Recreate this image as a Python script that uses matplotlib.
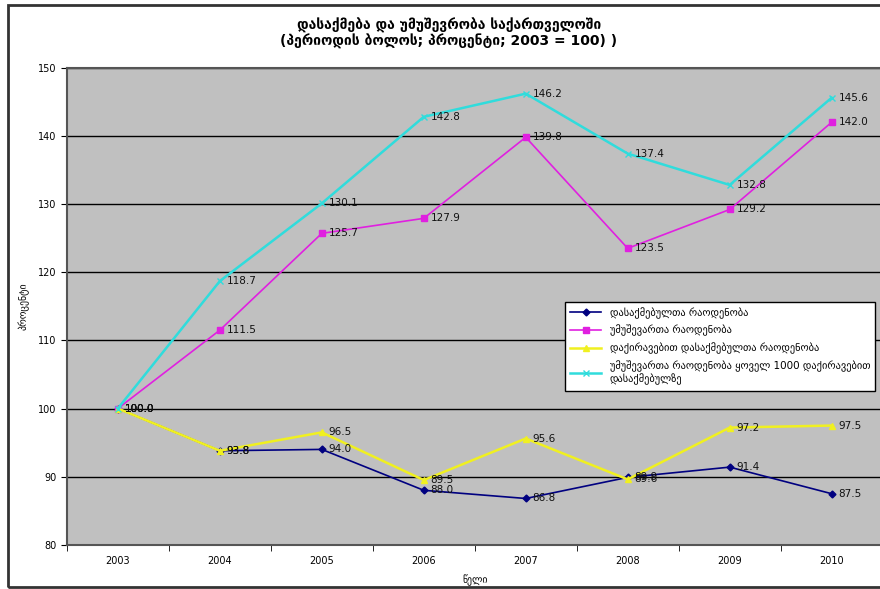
import numpy as np
import matplotlib.pyplot as plt
from matplotlib.patches import Rectangle

plt.rcParams['font.family'] = ['DejaVu Sans']

years = [2003, 2004, 2005, 2006, 2007, 2008, 2009, 2010]
dasakmebuli = [100.0, 93.8, 94.0, 88.0, 86.8, 89.9, 91.4, 87.5]
umushevari = [100.0, 111.5, 125.7, 127.9, 139.8, 123.5, 129.2, 142.0]
dakiravebuli = [100.0, 93.8, 96.5, 89.5, 95.6, 89.6, 97.2, 97.5]
yovel_1000 = [100.0, 118.7, 130.1, 142.8, 146.2, 137.4, 132.8, 145.6]

saxelebi = ['დასაქმებულთა რაოდენობა',
            'უმუშევართა რაოდენობა',
            'დაქირავებით დასაქმებულთა რაოდენობა',
            'უმუშევართა რაოდენობა ყოველ 1000 დაქირავებით\nდასაქმებულზე']

fig = plt.figure(figsize=(8.8, 5.89), dpi=100)
fig.patches.append(Rectangle((0.009, 0.004), 1.2, 0.987, transform=fig.transFigure,
                             fill=False, edgecolor='#333333', linewidth=2))
ax = fig.add_axes([0.076, 0.075, 0.927, 0.81])
ax.set_facecolor('#C0C0C0')

x = np.arange(len(years))
serii = [
    (dasakmebuli, '#000080', 'D', 3.5, 1.2),
    (umushevari, '#E020E0', 's', 4, 1.2),
    (dakiravebuli, '#F0F020', '^', 4, 1.8),
    (yovel_1000, '#30DCDC', 'x', 5, 1.8),
]
for (vals, c, m, ms, lw), name in zip(serii, saxelebi):
    ax.plot(x, vals, color=c, marker=m, markersize=ms, linewidth=lw, label=name, zorder=3)
    for xi, v in zip(x, vals):
        ax.annotate(f'{v:.1f}', (xi, v), xytext=(5, 0), textcoords='offset points',
                    va='center', ha='left', fontsize=7.5, color='#111111', zorder=4)

ax.set_ylim(80, 150)
ax.set_yticks(range(80, 151, 10))
ax.yaxis.grid(True, color='black', linewidth=1)
ax.set_axisbelow(True)
ax.set_xlim(-0.5, len(years) - 0.5)
ax.set_xticks(x)
ax.set_xticklabels(years)
ax.set_xticks(np.arange(-0.5, len(years), 1), minor=True)
ax.tick_params(axis='x', which='major', length=0, pad=8, labelsize=7)
ax.tick_params(axis='x', which='minor', length=4, direction='out')
ax.tick_params(axis='y', length=4, labelsize=7)
for s in ['left', 'bottom', 'top', 'right']:
    ax.spines[s].set_color('#555555')
    ax.spines[s].set_linewidth(1.5)

ax.set_xlabel('წელი', fontsize=7, labelpad=6)
ax.set_ylabel('პროცენტი', fontsize=7, labelpad=6)
fig.suptitle('დასაქმება და უმუშევრობა საქართველოში\n(პერიოდის ბოლოს; პროცენტი; 2003 = 100) )',
             fontsize=10, fontweight='bold', y=0.97, x=0.51, linespacing=1.1)

leg = ax.legend(loc='upper left', bbox_to_anchor=(0.604, 0.52), fontsize=7.5,
                frameon=True, fancybox=False, edgecolor='black', framealpha=1,
                handlelength=3, borderpad=0.5, labelspacing=0.6)
leg.get_frame().set_linewidth(1)

fig.savefig('out.png', dpi=100)
